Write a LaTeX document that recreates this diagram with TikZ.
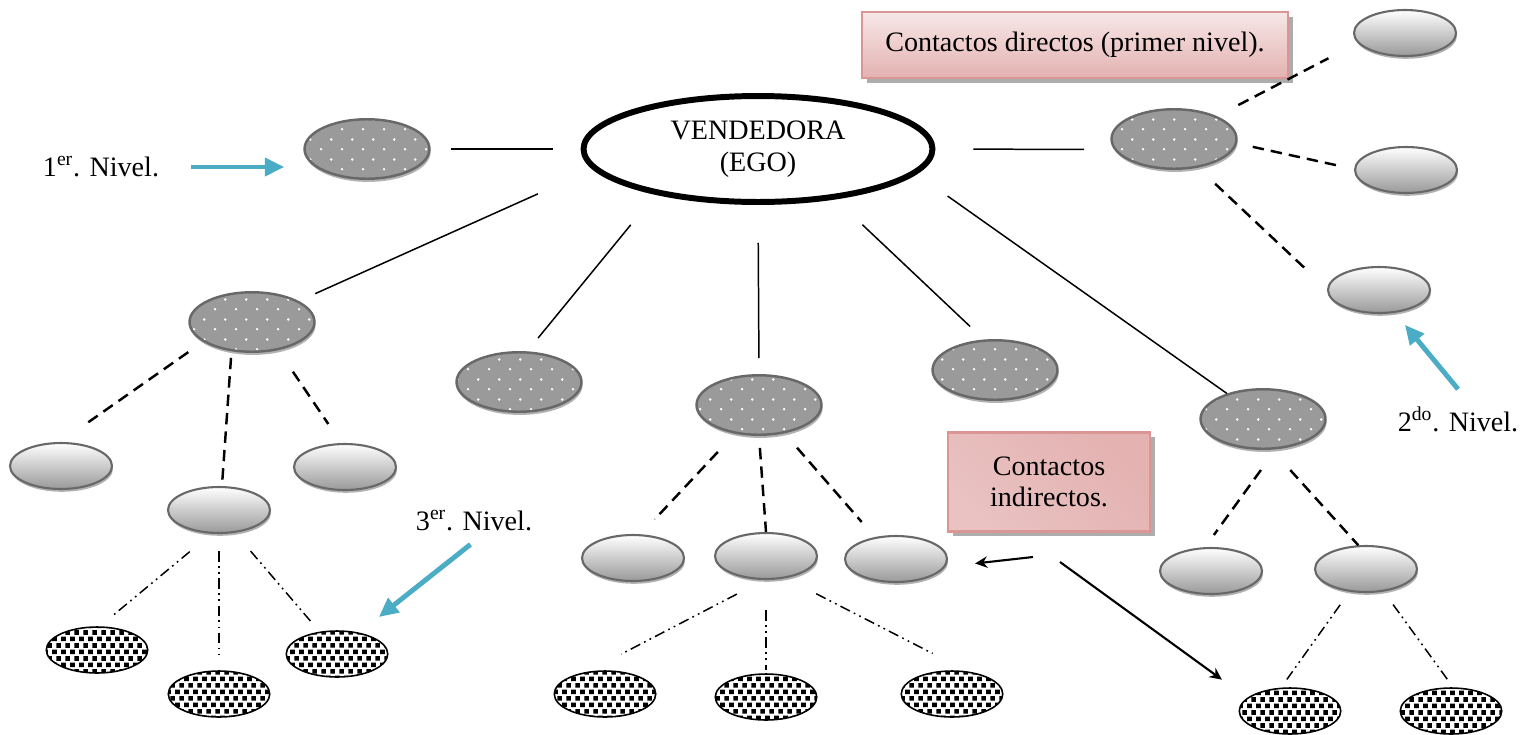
\documentclass[tikz,border=0pt]{standalone}
\usepackage{fontspec}
\setmainfont{Liberation Serif}
\usetikzlibrary{arrows.meta, shapes.geometric, patterns, shadows}
\definecolor{dotgray}{HTML}{9A9A9A}
\definecolor{ringgray}{HTML}{686868}
\definecolor{lvlblue}{HTML}{4BACC6}
\definecolor{boxedge}{HTML}{D99694}
\definecolor{boxlight}{HTML}{F7E7E7}
\definecolor{boxdark}{HTML}{E3B2B1}

\pgfdeclarepatternformonly{sparsedots}{\pgfqpoint{0pt}{0pt}}{\pgfqpoint{12pt}{11.4pt}}{\pgfqpoint{12pt}{11.4pt}}{%
  \pgfpathcircle{\pgfqpoint{3pt}{2.85pt}}{0.8pt}%
  \pgfpathcircle{\pgfqpoint{9pt}{8.55pt}}{0.8pt}%
  \pgfusepath{fill}}
\pgfdeclarepatternformonly{squarebits}{\pgfqpoint{0pt}{0pt}}{\pgfqpoint{5pt}{7.6pt}}{\pgfqpoint{5pt}{7.6pt}}{%
  \pgfpathrectangle{\pgfqpoint{0.1pt}{0.5pt}}{\pgfqpoint{2.7pt}{2.7pt}}%
  \pgfpathrectangle{\pgfqpoint{2.6pt}{4.3pt}}{\pgfqpoint{2.7pt}{2.7pt}}%
  \pgfusepath{fill}}

\begin{document}
\begin{tikzpicture}[
    x=0.02cm, y=-0.02cm,
    egobox/.style={ellipse, draw, line width=3.4pt, fill=white, minimum width=6.98cm, minimum height=2.12cm,
                   align=center, font=\fontsize{16}{18}\selectfont},
    firstlvl/.style={ellipse, draw=ringgray, line width=1.4pt, minimum width=2.5cm, minimum height=1.19cm,
                     drop shadow={shadow xshift=0.6pt, shadow yshift=-1.8pt, fill=black!30, opacity=1},
                     preaction={fill=dotgray}, pattern=sparsedots, pattern color=white},
    secondlvl/.style={ellipse, draw=ringgray, line width=1.2pt, minimum width=2.04cm, minimum height=0.92cm,
                      drop shadow={shadow xshift=0.6pt, shadow yshift=-1.6pt, fill=black!30, opacity=1},
                      top color=white, bottom color=black!40},
    thirdlvl/.style={ellipse, draw, line width=0.9pt, minimum width=2.03cm, minimum height=0.92cm,
                     preaction={fill=white}, pattern=squarebits},
    note/.style={draw=boxedge, line width=1.2pt, align=center, font=\fontsize{16}{18}\selectfont,
                 drop shadow={shadow xshift=2.6pt, shadow yshift=-2.6pt, fill=black!32, opacity=1}},
    lvltext/.style={inner sep=0pt, font=\fontsize{16}{18}\selectfont},
    tie/.style={line width=0.85pt},
    dashtie/.style={line width=1.4pt, dash pattern=on 6.5pt off 4pt},
    dotdashtie/.style={line width=0.85pt, dash pattern=on 6pt off 2.5pt on 1pt off 2.5pt on 1pt off 2.5pt},
    bluearr/.style={-{Triangle[length=11pt, width=10pt]}, line width=2.8pt, lvlblue},
    blackarr/.style={-{Stealth[length=7pt, width=6.5pt]}, line width=1.2pt},
]
\useasboundingbox (0,0) rectangle (1530,734);

\node[egobox] (ego) at (758,149) {VENDEDORA\\(EGO)};

\node[firstlvl] (d1) at (367,149) {};
\node[firstlvl] (d2) at (1174,139) {};
\node[firstlvl] (d3) at (252,322) {};
\node[firstlvl] (d4) at (519,382) {};
\node[firstlvl] (d5) at (759,405) {};
\node[firstlvl] (d6) at (995,370) {};
\node[firstlvl] (d7) at (1263,419) {};

\node[secondlvl] (s1) at (1405,33) {};
\node[secondlvl] (s2) at (1406,170) {};
\node[secondlvl] (s3) at (1379,290) {};
\node[secondlvl] (s4) at (61,466) {};
\node[secondlvl] (s5) at (345,467) {};
\node[secondlvl] (s6) at (219,510) {};
\node[secondlvl] (s7) at (633,558) {};
\node[secondlvl] (s8) at (766,556) {};
\node[secondlvl] (s9) at (896,559) {};
\node[secondlvl] (s10) at (1211,571) {};
\node[secondlvl] (s11) at (1366,569) {};

\node[thirdlvl] (t1) at (97,650) {};
\node[thirdlvl] (t2) at (219,694) {};
\node[thirdlvl] (t3) at (337,654) {};
\node[thirdlvl] (t4) at (605,694) {};
\node[thirdlvl] (t5) at (766,697) {};
\node[thirdlvl] (t6) at (952,694) {};
\node[thirdlvl] (t7) at (1290,711) {};
\node[thirdlvl] (t8) at (1451,711) {};

\node[note, minimum width=8.52cm, minimum height=1.32cm, top color=boxlight, bottom color=boxdark]
    (directos) at (1075,45) {Contactos directos (primer nivel).};
\node[note, minimum width=4.04cm, minimum height=1.98cm, top color=boxdark, middle color=boxlight,
      bottom color=boxdark!70!boxlight, shading angle=-45]
    (indirectos) at (1049,482) {Contactos\\indirectos.};

\node[lvltext] (lvlone) at (101,167) {1\textsuperscript{er}. Nivel.};
\node[lvltext] (lvltwo) at (1458,419) {2\textsuperscript{do}. Nivel.};
\node[lvltext] (lvlthree) at (474,521) {3\textsuperscript{er}. Nivel.};

\draw[tie, shorten <=0.4cm, shorten >=0.56cm] (d1.east) -- (ego.west);
\draw[tie, shorten <=0.76cm, shorten >=0.6cm] (ego.east) -- (d2.190);
\draw[tie, shorten <=0.36cm, shorten >=1.2cm] (d3) -- (ego.187);
\draw[tie, shorten <=0.34cm, shorten >=0.78cm] (d4.75) -- (ego.204);
\draw[tie, shorten <=0.76cm, shorten >=0.32cm] (ego.south) -- (d5.north);
\draw[tie, shorten <=0.74cm, shorten >=0.38cm] (ego.327) -- (d6.110);
\draw[tie, shorten <=0.76cm] (ego.351) -- (d7);

\draw[dashtie, shorten <=0.48cm, shorten >=0.66cm] (d2.28) -- (s1.192);
\draw[dashtie, shorten <=0.32cm, shorten >=0.35cm] (d2.356) -- (s2.179);
\draw[dashtie, shorten <=0.47cm, shorten >=0.6cm] (d2.310) -- (s3.179);
\draw[dashtie, shorten <=0.36cm, shorten >=0.66cm] (d3.202) -- (s4.92);
\draw[dashtie, shorten <=0.13cm, shorten >=0.06cm] (d3.235) -- (s6.83);
\draw[dashtie, shorten <=0.52cm, shorten >=0.46cm] (d3.313) -- (s5.99);
\draw[dashtie, shorten <=0.5cm, shorten >=0.41cm] (d5.230) -- (s7.72);
\draw[dashtie, shorten <=0.24cm] (d5.south) -- (s8.north);
\draw[dashtie, shorten <=0.38cm, shorten >=0.4cm] (d5.312) -- (s9.134);
\draw[dashtie, shorten <=0.51cm, shorten >=0.3cm] (d7.293) -- (s10.104);
\draw[dashtie, shorten <=0.55cm] (d7.286) -- (s11.108);

\draw[dotdashtie, shorten <=0.56cm, shorten >=0.34cm] (s6.252) -- (t1.83);
\draw[dotdashtie, shorten <=0.34cm, shorten >=0.3cm] (s6.south) -- (t2.north);
\draw[dotdashtie, shorten <=0.48cm, shorten >=0.28cm] (s6.305) -- (t3.128);
\draw[dotdashtie, shorten <=0.61cm, shorten >=0.76cm] (s8.265) -- (t4.128);
\draw[dotdashtie, shorten <=0.6cm, shorten >=0.06cm] (s8.south) -- (t5.north);
\draw[dotdashtie, shorten <=0.68cm, shorten >=0.78cm] (s8.312) -- (t6.56);
\draw[dotdashtie, shorten <=0.32cm, shorten >=0.2cm] (s11.234) -- (t7.111);
\draw[dotdashtie, shorten <=0.32cm, shorten >=0.2cm] (s11.308) -- (t8.85);

\draw[bluearr, shorten <=0.64cm, shorten >=0.38cm] (lvlone.east) -- (lvlone.east -| d1.west);
\draw[bluearr, shorten <=0.44cm, shorten >=0.31cm] ([xshift=0.28cm]lvltwo.north) -- (s3.305);
\draw[bluearr, shorten <=0.41cm, shorten >=0.5cm] ([xshift=0.25cm]lvlthree.south) -- (t3.44);

\coordinate (fromleft) at (1033,557);
\coordinate (fromright) at (1060,562);
\draw[blackarr, shorten >=0.6cm] (fromleft) -- (s9.351);
\draw[blackarr, shorten >=0.62cm] (fromright) -- (t7.163);
\end{tikzpicture}
\end{document}
